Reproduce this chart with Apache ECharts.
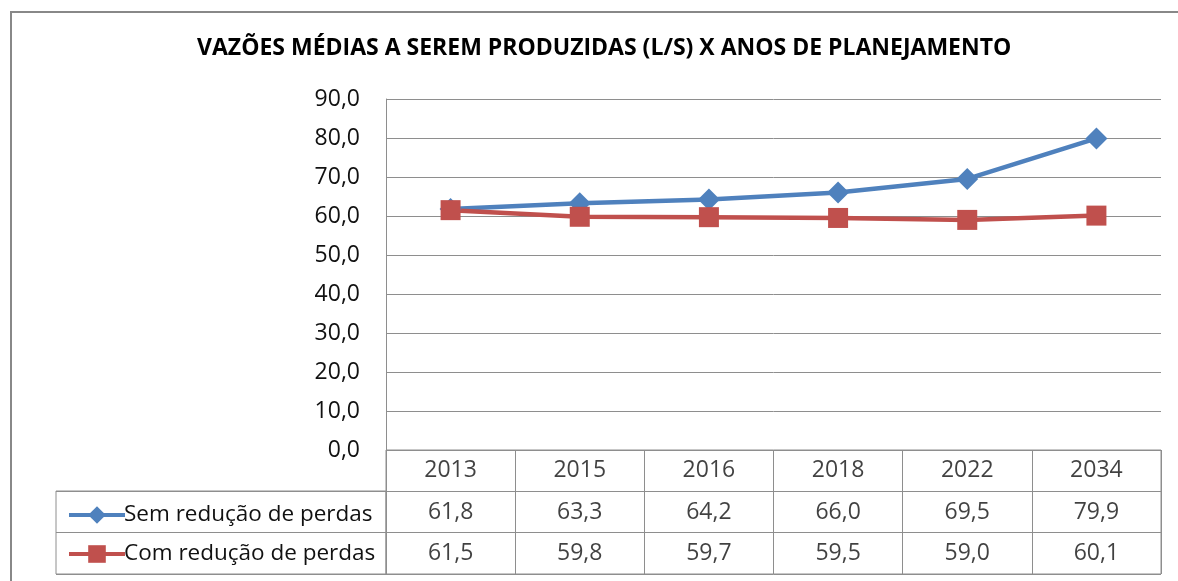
<!DOCTYPE html>
<html lang="pt">
<head>
    <meta charset="UTF-8">
    <title>Vazões médias</title>
    <style>
        html, body { margin: 0; padding: 0; background: #fff; }
        #main { width: 1178px; height: 581px; }
    </style>
</head>
<body>
<div id="main"></div>
<script src="https://cdn.jsdelivr.net/npm/echarts@6/dist/echarts.min.js"></script>
<script>
    // dados
    var anos = ['2013', '2015', '2016', '2018', '2022', '2034'];
    var semReducao = [61.8, 63.3, 64.2, 66.0, 69.5, 79.9];
    var comReducao = [61.5, 59.8, 59.7, 59.5, 59.0, 60.1];
    var nomes = ['Sem redução de perdas', 'Com redução de perdas'];

    var fonte = 'Open Sans';
    var cinza = '#8e8e8e';

    function fmt(v) {
        return v.toFixed(1).replace('.', ',');
    }

    // células da tabela de dados (coluna, linha, texto)
    var celulas = [];
    anos.forEach(function (a, i) {
        celulas.push([i, 0, a]);
        celulas.push([i, 1, fmt(semReducao[i])]);
        celulas.push([i, 2, fmt(comReducao[i])]);
    });

    var chart = echarts.init(document.getElementById('main'));
    var option = {
        animation: false,
        title: {
            text: 'VAZÕES MÉDIAS A SEREM PRODUZIDAS (L/S) X ANOS DE PLANEJAMENTO',
            left: 197,
            top: 37,
            padding: 0,
            textStyle: { fontFamily: fonte, fontSize: 23, fontWeight: 'bold', color: '#000' }
        },
        legend: {
            data: nomes,
            orient: 'vertical',
            left: 62,
            top: 498,
            itemWidth: 56,
            itemHeight: 22,
            itemGap: 15,
            lineStyle: { width: 4 },
            textStyle: { fontFamily: fonte, fontSize: 22.5, color: '#111', lineHeight: 24, padding: [0, 0, 0, -6] }
        },
        graphic: [{
            type: 'rect',
            shape: { x: 11, y: 12, width: 1200, height: 600 },
            style: { fill: 'none', stroke: '#888', lineWidth: 2 },
            silent: true
        }],
        grid: [
            { left: 386, top: 99, width: 775, height: 351 },
            { left: 386, top: 450, width: 775, height: 124, show: true, borderColor: cinza, borderWidth: 1 },
            { left: 56, top: 491, width: 330, height: 83, show: true, borderColor: cinza, borderWidth: 1 }
        ],
        xAxis: [
            {
                gridIndex: 0, type: 'category', data: anos, boundaryGap: true,
                axisLine: { show: false }, axisTick: { show: false }, axisLabel: { show: false }
            },
            {
                gridIndex: 1, type: 'category', data: anos, boundaryGap: true,
                axisLine: { show: false }, axisTick: { show: false }, axisLabel: { show: false },
                splitLine: { show: true, lineStyle: { color: cinza, width: 1 } }
            },
            {
                gridIndex: 2, type: 'value', show: false
            }
        ],
        yAxis: [
            {
                gridIndex: 0, type: 'value', min: 0, max: 90, interval: 10,
                axisLine: { show: true, lineStyle: { color: cinza, width: 1 } },
                axisTick: { show: false },
                splitLine: { lineStyle: { color: cinza, width: 1 } },
                axisLabel: {
                    margin: 26, fontFamily: fonte, fontSize: 23, color: '#111',
                    formatter: function (v) { return fmt(v); }
                }
            },
            {
                gridIndex: 1, type: 'category', data: ['anos', 'sem', 'com'], inverse: true,
                axisLine: { show: false }, axisTick: { show: false }, axisLabel: { show: false },
                splitLine: { show: true, lineStyle: { color: cinza, width: 1 } }
            },
            {
                gridIndex: 2, type: 'category', data: ['sem', 'com'], inverse: true,
                axisLine: { show: false }, axisTick: { show: false }, axisLabel: { show: false },
                splitLine: { show: true, lineStyle: { color: cinza, width: 1 } }
            }
        ],
        series: [
            {
                name: nomes[0], type: 'line', xAxisIndex: 0, yAxisIndex: 0,
                data: semReducao,
                color: '#4F81BD',
                lineStyle: { width: 4.5, color: '#4F81BD' },
                symbol: 'diamond', symbolSize: 22,
                itemStyle: { color: '#4F81BD' }
            },
            {
                name: nomes[1], type: 'line', xAxisIndex: 0, yAxisIndex: 0,
                data: comReducao,
                color: '#C0504D',
                lineStyle: { width: 4.5, color: '#C0504D' },
                symbol: 'rect', symbolSize: 20,
                itemStyle: { color: '#C0504D' }
            },
            {
                type: 'scatter', xAxisIndex: 1, yAxisIndex: 1,
                data: celulas, symbolSize: 0, silent: true,
                label: {
                    show: true, position: 'inside',
                    fontFamily: fonte, fontSize: 23, color: '#111',
                    formatter: function (p) { return p.data[2]; }
                }
            }
        ]
    };
    option && chart.setOption(option);
</script>
</body>
</html>
